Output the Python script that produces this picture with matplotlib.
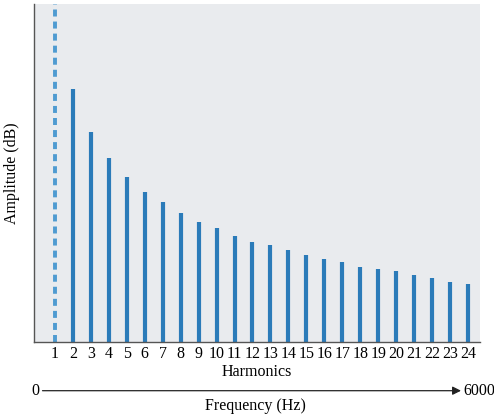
import matplotlib
matplotlib.use("Agg")
import matplotlib.pyplot as plt

# harmonic numbers and relative amplitudes (fundamental is missing -> dashed)
harmonics = list(range(1, 25))
present = list(range(2, 25))
amplitude = [74.9, 62.1, 54.4, 48.8, 44.4, 41.3, 38.3, 35.5, 33.6, 31.4, 29.7,
             28.7, 27.2, 25.7, 24.7, 23.7, 22.2, 21.6, 21.0, 19.8, 18.9, 17.9, 17.3]
fundamental = 1
y_top = 100
freq_labels = ["0", "6000"]

BAR_COL = "#2b7bb9"
DASH_COL = "#4f9bd1"
BG = "#e9ebee"
SERIF = ["Liberation Serif", "DejaVu Serif"]

fig = plt.figure(figsize=(4.94, 4.2), dpi=100)
ax = fig.add_axes([0.0688, 0.1857, 0.9028, 0.8048])
ax.set_facecolor(BG)

ax.vlines(present, 0, amplitude, color=BAR_COL, linewidth=3)
ax.vlines([fundamental], 0, y_top, color=DASH_COL, linewidth=2.8,
          linestyles=(0, (1.8, 1.3)))

ax.set_xlim(-0.17, 24.67)
ax.set_ylim(0, y_top)
ax.set_xticks(harmonics)
ax.set_xticklabels([str(h) for h in harmonics], family=SERIF, fontsize=11.5)
ax.tick_params(axis="x", length=0, pad=3)
ax.set_yticks([])
for s in ["top", "right"]:
    ax.spines[s].set_visible(False)
for s in ["left", "bottom"]:
    ax.spines[s].set_color("#555555")
    ax.spines[s].set_linewidth(1.0)

ax.set_xlabel("Harmonics", family=SERIF, fontsize=11.5, labelpad=1)
fig.text(12 / 494, 1 - 173.5 / 420, "Amplitude (dB)", rotation=90,
         ha="center", va="center", family=SERIF, fontsize=11.5)

# frequency arrow below the harmonic axis
y_arr = 1 - 390.7 / 420
fig.text(35 / 494, y_arr, freq_labels[0], ha="center", va="center",
         family=SERIF, fontsize=11.5)
fig.text(463 / 494, y_arr, freq_labels[1], ha="left", va="center",
         family=SERIF, fontsize=11.5)
fig.add_artist(matplotlib.patches.FancyArrowPatch(
    (42.5 / 494, y_arr), (461 / 494, y_arr), transform=fig.transFigure,
    arrowstyle="-|>,head_length=5,head_width=2.5", color="#222222",
    linewidth=0.9, shrinkA=0, shrinkB=0))
fig.text(255 / 494, 1 - 406 / 420, "Frequency (Hz)", ha="center", va="center",
         family=SERIF, fontsize=11.5)

fig.savefig("out.png", dpi=100)
